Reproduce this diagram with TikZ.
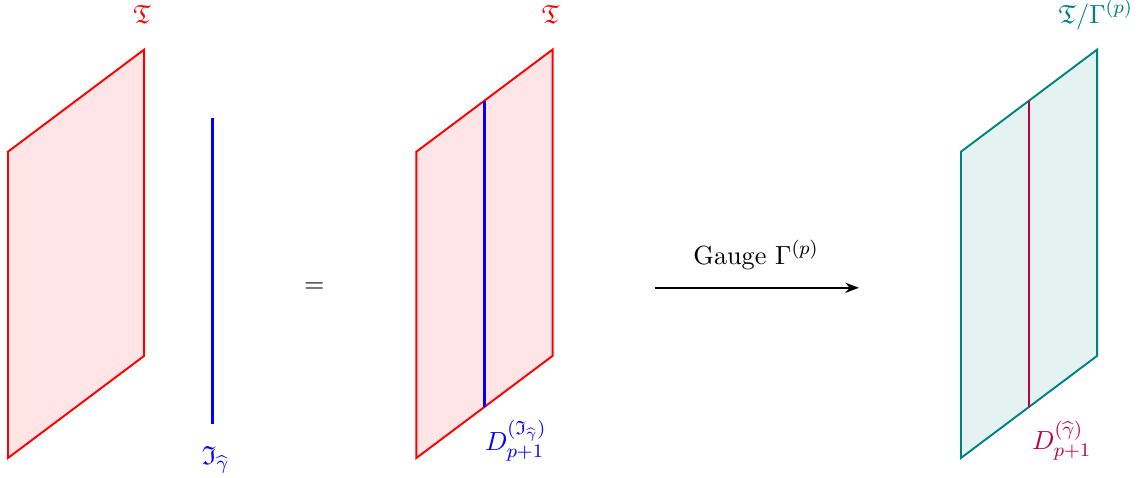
\documentclass[tikz,border=0pt,11pt]{standalone}
\usepackage{amsmath,amssymb,amsfonts}
\usepackage{xcolor}
\usepackage{tikz}
\usetikzlibrary{arrows.meta,calc}

\begin{document}
\begin{tikzpicture}
    \useasboundingbox (-0.118,-0.294) rectangle (16.615,6.728);
    % Left plane and separate line
    \draw[thick, red, fill=red!10] (0,0) -- (0,4.5) -- (2,6) -- (2,1.5) -- cycle;
    \node[red] (tl) at (1.97,6.51) {$\mathfrak{T}$};
    \coordinate (Lb) at (3,0.5);
    \coordinate (Lt) at (3,5);
    \draw[very thick, blue] (Lb) -- (Lt);
    \node[blue] (lab) at (3.05,-0.03) {$\mathfrak{I}_{\widehat{\gamma}}$};
    % Equal sign
    \node (eq) at (4.5,2.5) {$=$};
    % Middle plane with defect
    \draw[thick, red, fill=red!10] (6,0) -- (6,4.5) -- (8,6) -- (8,1.5) -- cycle;
    \node[red] (tm) at (7.97,6.51) {$\mathfrak{T}$};
    \coordinate (Mb) at (7,0.75);
    \coordinate (Mt) at (7,5.25);
    \draw[very thick, blue] (Mb) -- (Mt);
    \node[blue] (mlab) at (7.46,0.25) {$D_{p+1}^{(\mathfrak{I}_{\widehat{\gamma}})}$};
    % Gauging arrow
    \coordinate (A) at (9.5,2.5);
    \coordinate (B) at (12.5,2.5);
    \draw[semithick, -{Stealth}] (A) -- (B);
    \node (g) at (10.99,2.98) {Gauge $\Gamma^{(p)}$};
    % Right plane with defect
    \draw[thick, teal, fill=teal!10] (14,0) -- (14,4.5) -- (16,6) -- (16,1.5) -- cycle;
    \node[teal] (tr) at (15.98,6.51) {$\mathfrak{T}/\Gamma^{(p)}$};
    \coordinate (Rb) at (15,0.75);
    \coordinate (Rt) at (15,5.25);
    \draw[thick, purple] (Rb) -- (Rt);
    \node[purple] (rlab) at (15.48,0.25) {$D_{p+1}^{(\widehat{\gamma})}$};
\end{tikzpicture}
\end{document}
